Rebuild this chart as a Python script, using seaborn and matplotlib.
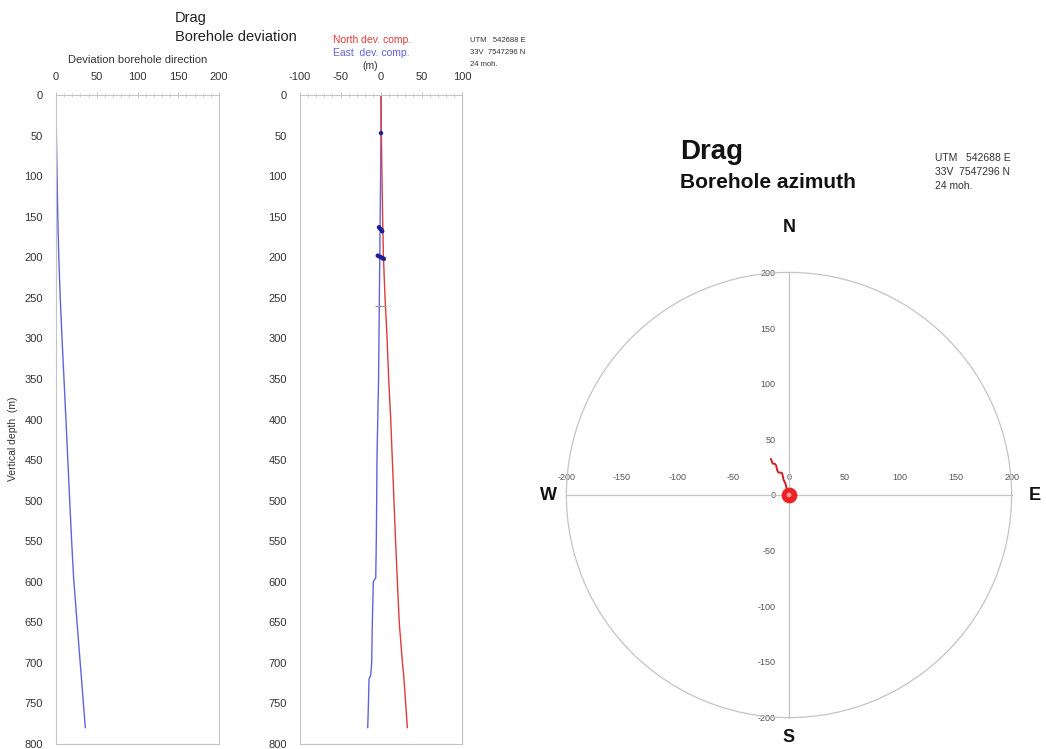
import numpy as np
import pandas as pd
import matplotlib
matplotlib.use("Agg")
import matplotlib.pyplot as plt
from matplotlib.patches import Circle
from matplotlib.ticker import MultipleLocator
import seaborn as sns

# ---- survey stations ----
depth = [0, 50, 100, 150, 200, 250, 300, 350, 400, 450, 500, 550, 595, 600,
         650, 700, 715, 720, 750, 780]
north_dev = [0, 0.5, 1.2, 2, 3, 5, 7.5, 9.5, 12, 14, 16, 18, 20, 20.2,
             22.5, 26.5, 28, 28.3, 30.5, 32.5]
east_dev = [0, 0, -0.5, -1, -1.5, -2, -2.5, -3, -4, -5, -5.3, -5.8, -6.5, -9.5,
            -10.7, -11.5, -12.7, -14.8, -15.5, -16.4]
total_dev = [0, 0.5, 1.3, 2.2, 3.4, 5.2, 7.4, 9.8, 12.2, 14.5, 16.8, 19.2,
             21.6, 22, 25.8, 29.7, 30.9, 31.3, 33.6, 36]

# dense readings where the east component scatters
cluster_depth = [47, 163, 165, 166, 168, 198, 199, 200, 201, 202]
cluster_east = [0, -2.5, -1, 0.5, 1.5, -4, -2, 0, 2, 3.5]

casing_depth = [260]

depth_ticks = list(range(0, 801, 50))
dir_ticks = [0, 50, 100, 150, 200]
comp_ticks = [-100, -50, 0, 50, 100]
plan_ticks = [-200, -150, -100, -50, 0, 50, 100, 150, 200]
plan_radius = 200

RED = "#e03a3a"
BLUE = "#6262dc"
NAVY = "#1e1e9c"
GRID = "#c4c4c4"
TXT = "#333333"

sns.set_theme(style="white")
plt.rcParams["font.family"] = ["Liberation Sans", "DejaVu Sans"]
plt.rcParams["axes.unicode_minus"] = False

W, H = 1046, 749
fig = plt.figure(figsize=(W / 100, H / 100), dpi=100)


def px_axes(x0, y0, x1, y1):
    return fig.add_axes([x0 / W, 1 - y1 / H, (x1 - x0) / W, (y1 - y0) / H])


def style_profile(ax, xlim, xticks):
    ax.set_xlim(*xlim)
    ax.set_ylim(800, 0)
    ax.xaxis.tick_top()
    ax.xaxis.set_label_position("top")
    ax.set_xticks(xticks)
    ax.set_yticks(depth_ticks)
    ax.xaxis.set_minor_locator(MultipleLocator(10))
    ax.yaxis.set_minor_locator(MultipleLocator(10))
    ax.tick_params(which="major", direction="inout", length=5, width=0.7,
                   color=GRID, labelsize=8, labelcolor=TXT, pad=7)
    ax.tick_params(which="minor", direction="inout", length=3, width=0.5,
                   color=GRID)
    for s in ax.spines.values():
        s.set_color(GRID)
        s.set_linewidth(0.8)
    ax.set_ylabel("")
    ax.set_xlabel("")


# ---- deviation along borehole direction ----
ax1 = px_axes(56, 95, 219, 744)
sns.lineplot(x=total_dev, y=depth, sort=False, estimator=None, color=BLUE,
             lw=1.0, ax=ax1)
style_profile(ax1, (0, 200), dir_ticks)
ax1.set_xlabel("Deviation borehole direction", fontsize=8, color=TXT, labelpad=6)
ax1.set_ylabel("Vertical depth  (m)", fontsize=7.5, color=TXT)
ax1.yaxis.set_label_coords(-0.235, 0.47)

# ---- north / east components ----
ax2 = px_axes(300, 95, 462, 744)
comp = pd.DataFrame({
    "depth": depth * 2,
    "dev": north_dev + east_dev,
    "component": ["North"] * len(depth) + ["East"] * len(depth),
})
sns.lineplot(data=comp, x="dev", y="depth", hue="component",
             hue_order=["East", "North"], palette={"North": RED, "East": BLUE},
             sort=False, estimator=None, lw=1.0, legend=False, ax=ax2)
sns.scatterplot(x=cluster_east, y=cluster_depth, color=NAVY, s=10,
                edgecolor="none", ax=ax2, zorder=3)
ax2.hlines(casing_depth, -7.5, 6, color="#999999", lw=0.8)
style_profile(ax2, (-100, 100), comp_ticks)

fig.text(175 / W, 1 - 18 / H, "Drag", fontsize=10.5, color="#222222", va="center")
fig.text(175 / W, 1 - 37 / H, "Borehole deviation", fontsize=10.5,
         color="#222222", va="center")
fig.text(333 / W, 1 - 40 / H, "North dev. comp.", fontsize=7.5, color=RED,
         va="center")
fig.text(333 / W, 1 - 53 / H, "East  dev. comp.", fontsize=7.5, color=BLUE,
         va="center")
fig.text(362 / W, 1 - 66 / H, "(m)", fontsize=7.5, color=TXT, va="center")
for i, line in enumerate(["UTM   542688 E", "33V  7547296 N", "24 moh."]):
    fig.text(470 / W, 1 - (41 + 11.5 * i) / H, line, fontsize=5.5,
             color=TXT, va="center")

# ---- plan view (azimuth) ----
cx, cy, scale = 789, 495, 1.113
ax3 = fig.add_axes([511 / W, 0, (W - 511) / W, 1])
ax3.set_xlim((511 - cx) / scale, (W - cx) / scale)
ax3.set_ylim((cy - H) / scale, cy / scale)
ax3.patch.set_alpha(0)
ax3.add_patch(Circle((0, 0), plan_radius, fill=False, ec=GRID, lw=0.9))
for side in ["top", "right"]:
    ax3.spines[side].set_visible(False)
for side in ["left", "bottom"]:
    ax3.spines[side].set_position(("data", 0))
    ax3.spines[side].set_bounds(-plan_radius, plan_radius)
    ax3.spines[side].set_color(GRID)
    ax3.spines[side].set_linewidth(0.9)
ax3.set_xticks(plan_ticks)
ax3.set_yticks(plan_ticks)
ax3.xaxis.set_minor_locator(MultipleLocator(10))
ax3.yaxis.set_minor_locator(MultipleLocator(10))
ax3.tick_params(which="major", direction="inout", length=7, width=0.7,
                color=GRID, labelsize=6.5, labelcolor="#555555")
ax3.tick_params(which="minor", direction="inout", length=4, width=0.5,
                color=GRID)
ax3.tick_params(axis="x", which="major", pad=-19)
ax3.tick_params(axis="y", which="major", pad=6)

sns.lineplot(x=east_dev, y=north_dev, sort=False, estimator=None, color="#cc2222",
             lw=1.4, ax=ax3)
sns.scatterplot(x=[east_dev[0]], y=[north_dev[0]], s=110, color="#ee2222",
                edgecolor="#ee2222", ax=ax3, zorder=4)
sns.scatterplot(x=[east_dev[0]], y=[north_dev[0]], s=12, color="#ff9a9a",
                edgecolor="none", ax=ax3, zorder=5)
ax3.set_xlabel("")
ax3.set_ylabel("")

lab = dict(fontsize=13, fontweight="bold", color="#111111", ha="center",
           va="center")
ax3.text(0, (cy - 227) / scale, "N", **lab)
ax3.text(0, (cy - 738) / scale, "S", **lab)
ax3.text((548 - cx) / scale, 0, "W", **lab)
ax3.text((1035 - cx) / scale, 0, "E", **lab)

fig.text(680 / W, 1 - 152 / H, "Drag", fontsize=20, fontweight="bold",
         color="#111111", va="center")
fig.text(680 / W, 1 - 182 / H, "Borehole azimuth", fontsize=15,
         fontweight="bold", color="#111111", va="center")
for i, line in enumerate(["UTM   542688 E", "33V  7547296 N", "24 moh."]):
    fig.text(935 / W, 1 - (158 + 14 * i) / H, line, fontsize=7.5,
             color=TXT, va="center")

fig.savefig("out.png", dpi=100, facecolor="white")
